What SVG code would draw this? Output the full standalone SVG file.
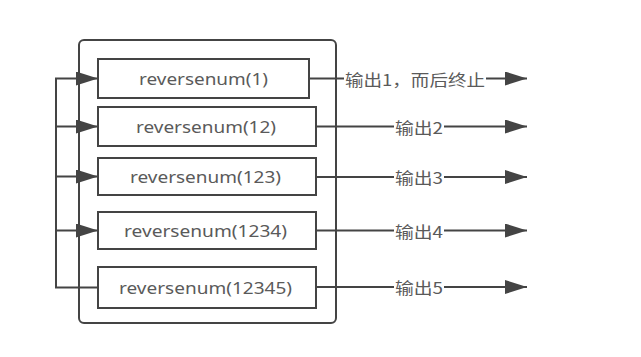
<svg xmlns="http://www.w3.org/2000/svg" width="641" height="357" viewBox="0 0 641 357">
<style>
.bg{fill:#fff}
.box{fill:#fff;stroke:#444;stroke-width:2}
.cont{fill:none;stroke:#444;stroke-width:2}
.ln{fill:none;stroke:#444;stroke-width:2}
.t{font-family:"Noto Sans","Noto Sans CJK SC",sans-serif;font-size:16.5px;fill:#5a5a5a;text-anchor:middle;dominant-baseline:central}
.lb{font-family:"Noto Sans CJK SC","Noto Sans",sans-serif;font-size:15.5px;fill:#5a5a5a;text-anchor:middle;dominant-baseline:central}
</style>
<defs>
<marker id="ah" markerUnits="userSpaceOnUse" markerWidth="22" markerHeight="14" refX="22" refY="7" orient="auto">
<path d="M0,0 L22,7 L0,14 z" fill="#444"/>
</marker>
</defs>
<rect class="bg" x="0" y="0" width="641" height="357"/>
<rect id="container" class="cont" x="79" y="40" width="257" height="283" rx="5"/>
<g id="connectors">
<path class="ln" d="M98,287.5 H56 V78.5 H98" marker-end="url(#ah)"/>
<path class="ln" d="M56,126.5 H98" marker-end="url(#ah)"/>
<path class="ln" d="M56,176.5 H98" marker-end="url(#ah)"/>
<path class="ln" d="M56,230.5 H98" marker-end="url(#ah)"/>
<path class="ln" d="M309,78.5 H527" marker-end="url(#ah)"/>
<path class="ln" d="M316,126.5 H527" marker-end="url(#ah)"/>
<path class="ln" d="M316,177 H527" marker-end="url(#ah)"/>
<path class="ln" d="M316,230.5 H527" marker-end="url(#ah)"/>
<path class="ln" d="M316,287 H527" marker-end="url(#ah)"/>
<rect class="bg" x="344" y="68" width="142" height="21"/>
<text class="lb" x="415" y="78.5" textLength="140" lengthAdjust="spacingAndGlyphs">输出1，而后终止</text>
<rect class="bg" x="394" y="116" width="50" height="21"/>
<text class="lb" x="419" y="126.5" textLength="48" lengthAdjust="spacingAndGlyphs">输出2</text>
<rect class="bg" x="394" y="166.5" width="50" height="21"/>
<text class="lb" x="419" y="177" textLength="48" lengthAdjust="spacingAndGlyphs">输出3</text>
<rect class="bg" x="394" y="220" width="50" height="21"/>
<text class="lb" x="419" y="230.5" textLength="48" lengthAdjust="spacingAndGlyphs">输出4</text>
<rect class="bg" x="394" y="276.5" width="50" height="21"/>
<text class="lb" x="419" y="287" textLength="48" lengthAdjust="spacingAndGlyphs">输出5</text>
</g>
<g id="n1"><rect class="box" x="98" y="59" width="211" height="39"/><text class="t" x="203.5" y="78.5" textLength="129" lengthAdjust="spacingAndGlyphs">reversenum(1)</text></g>
<g id="n2"><rect class="box" x="98" y="107" width="218" height="39"/><text class="t" x="206" y="126.5" textLength="140" lengthAdjust="spacingAndGlyphs">reversenum(12)</text></g>
<g id="n3"><rect class="box" x="98" y="158" width="218" height="37"/><text class="t" x="205.5" y="176.5" textLength="151" lengthAdjust="spacingAndGlyphs">reversenum(123)</text></g>
<g id="n4"><rect class="box" x="98" y="212" width="218" height="37"/><text class="t" x="205.5" y="230.5" textLength="163" lengthAdjust="spacingAndGlyphs">reversenum(1234)</text></g>
<g id="n5"><rect class="box" x="98" y="267" width="218" height="41"/><text class="t" x="205.5" y="287.5" textLength="173" lengthAdjust="spacingAndGlyphs">reversenum(12345)</text></g>
</svg>
